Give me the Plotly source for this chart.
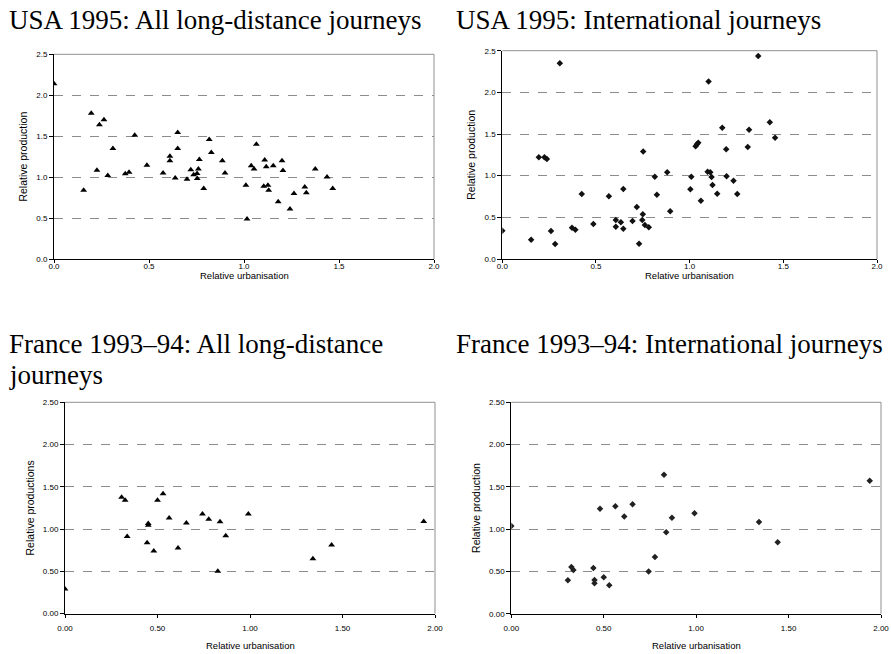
import plotly.graph_objects as go

# USA 1995: all long-distance journeys
usa_all_x = [0.0, 0.156, 0.196, 0.226, 0.239, 0.263, 0.283, 0.31, 0.375, 0.395, 0.425, 0.489,
             0.574, 0.61, 0.61, 0.638, 0.651, 0.651, 0.70, 0.72, 0.735, 0.753, 0.754, 0.76,
             0.765, 0.788, 0.817, 0.828, 0.886, 0.90, 1.01, 1.016, 1.065, 1.038, 1.053, 1.104,
             1.109, 1.117, 1.126, 1.13, 1.154, 1.18, 1.20, 1.205, 1.242, 1.263, 1.32, 1.328,
             1.375, 1.437, 1.467]
usa_all_y = [2.14, 0.84, 1.78, 1.085, 1.64, 1.70, 1.02, 1.35, 1.04, 1.06, 1.51, 1.146,
             1.05, 1.256, 1.20, 0.99, 1.545, 1.35, 0.975, 1.09, 1.03, 1.045, 0.984, 1.10,
             1.215, 0.86, 1.46, 1.30, 1.20, 1.05, 0.90, 0.49, 1.40, 1.14, 1.10, 0.89,
             1.21, 1.126, 0.90, 0.84, 1.14, 0.70, 1.20, 1.08, 0.61, 0.80, 0.88, 0.81,
             1.10, 1.00, 0.86]

# USA 1995: international journeys
usa_int_x = [0.0, 0.154, 0.195, 0.225, 0.238, 0.26, 0.282, 0.307, 0.372, 0.39, 0.424, 0.486,
             0.569, 0.606, 0.606, 0.633, 0.646, 0.646, 0.695, 0.718, 0.73, 0.747, 0.752, 0.75,
             0.761, 0.782, 0.814, 0.825, 0.88, 0.896, 1.004, 1.009, 1.032, 1.039, 1.046, 1.06,
             1.096, 1.101, 1.11, 1.117, 1.122, 1.147, 1.174, 1.195, 1.197, 1.234, 1.254, 1.31,
             1.317, 1.366, 1.428, 1.456]
usa_int_y = [0.34, 0.23, 1.22, 1.22, 1.20, 0.336, 0.18, 2.35, 0.376, 0.352, 0.78, 0.42,
             0.753, 0.468, 0.388, 0.44, 0.84, 0.364, 0.456, 0.624, 0.184, 0.468, 1.29, 0.536,
             0.408, 0.38, 0.988, 0.772, 1.04, 0.573, 0.837, 0.988, 1.353, 1.377, 1.396, 0.70,
             1.048, 2.13, 1.04, 0.984, 0.888, 0.784, 1.576, 1.317, 0.993, 0.94, 0.78, 1.345,
             1.55, 2.437, 1.64, 1.456]

# France 1993-94 (same regions in both panels)
fr_x = [0.0, 0.306, 0.325, 0.336, 0.444, 0.45, 0.45, 0.48, 0.50, 0.53, 0.563, 0.611,
        0.656, 0.743, 0.777, 0.826, 0.838, 0.869, 0.991, 1.34, 1.441, 1.939]
fr_all_y = [0.29, 1.375, 1.34, 0.91, 0.837, 1.046, 1.066, 0.74, 1.34, 1.417, 1.13, 0.774,
            1.07, 1.177, 1.117, 0.50, 1.085, 0.92, 1.177, 0.647, 0.81, 1.09]
fr_int_y = [1.037, 0.395, 0.552, 0.517, 0.54, 0.398, 0.36, 1.24, 0.43, 0.335, 1.27, 1.15,
            1.293, 0.50, 0.67, 1.643, 0.962, 1.135, 1.187, 1.084, 0.844, 1.572]

# panel titles (the third one wraps onto a second line, as in the reference)
title_lines = ["USA 1995: All long-distance journeys",
               "USA 1995: International journeys",
               "France 1993\u201394: All long-distance",
               "journeys",
               "France 1993\u201394: International journeys"]
y_titles = ["Relative production", "Relative production",
            "Relative productions", "Relative production"]
x_title = "Relative urbanisation"
x_ticks = [0, 0.5, 1.0, 1.5, 2.0]
y_ticks = [0, 0.5, 1.0, 1.5, 2.0, 2.5]

W, H = 891, 654
# plot area pixel boxes (left, right, top, bottom)
boxes = [(54, 434, 54.3, 259), (502.3, 877, 50.7, 259),
         (65, 435, 402.3, 613.5), (511.3, 881, 402.3, 613.7)]
xtitle_y = [275, 275, 645, 645]
xlabel_shift = [-4, -4, 4, 4]

fig = go.Figure()
series = [(usa_all_x, usa_all_y, "triangle-up", 6, "#000000"),
          (usa_int_x, usa_int_y, "diamond", 5, "#111111"),
          (fr_x, fr_all_y, "triangle-up", 6, "#000000"),
          (fr_x, fr_int_y, "diamond", 5, "#222222")]

sans = "Liberation Sans, Arial, sans-serif"
serif = "Liberation Serif, Times New Roman, serif"

for i, (xs, ys, sym, sz, col) in enumerate(series):
    n = i + 1
    xa = "x" if n == 1 else f"x{n}"
    ya = "y" if n == 1 else f"y{n}"
    fig.add_trace(go.Scatter(x=xs, y=ys, mode="markers", xaxis=xa, yaxis=ya,
                             marker=dict(symbol=sym, size=sz, color=col, line=dict(width=0)),
                             showlegend=False, hoverinfo="skip"))
    l, r, t, b = boxes[i]
    xdom = [l / W, r / W]
    ydom = [1 - b / H, 1 - t / H]
    fmt = ".1f" if i < 2 else ".2f"
    fig.layout[f"xaxis{'' if n == 1 else n}"] = dict(
        domain=xdom, range=[0, 2], anchor=ya, tickvals=x_ticks, tickformat=fmt,
        automargin=False, ticklabelstandoff=xlabel_shift[i],
        showline=True, linecolor="black", linewidth=1, ticks="outside", ticklen=3,
        tickcolor="black", showgrid=False, zeroline=False,
        tickfont=dict(family=sans, size=8, color="black"))
    fig.layout[f"yaxis{'' if n == 1 else n}"] = dict(
        domain=ydom, range=[0, 2.5], anchor=xa, tickvals=y_ticks, tickformat=fmt,
        automargin=False,
        showline=True, linecolor="black", linewidth=1, ticks="outside", ticklen=4,
        tickcolor="black", showgrid=True, gridcolor="#8c8c8c", griddash="dash",
        gridwidth=1, zeroline=False,
        tickfont=dict(family=sans, size=8, color="black"),
        title=dict(text=y_titles[i], font=dict(family=sans, size=10.5, color="black"), standoff=6))
    # grey frame on top and right
    fig.add_shape(type="line", xref=f"{xa} domain", yref=f"{ya} domain",
                  x0=0, x1=1, y0=1, y1=1, line=dict(color="#909090", width=1))
    fig.add_shape(type="line", xref=f"{xa} domain", yref=f"{ya} domain",
                  x0=1, x1=1, y0=0, y1=1, line=dict(color="#909090", width=1))
    # x-axis title
    fig.add_annotation(text=x_title, xref=f"{xa} domain", yref="paper", x=0.5,
                       y=1 - xtitle_y[i] / H, xanchor="center", yanchor="middle",
                       showarrow=False, font=dict(family=sans, size=9.5, color="black"))

title_pos = [(8, 20), (455, 20), (8, 344), (8, 375), (455, 344)]
for txt, (px, py) in zip(title_lines, title_pos):
    fig.add_annotation(text=txt, xref="paper", yref="paper", x=px / W, y=1 - py / H,
                       xanchor="left", yanchor="middle", align="left", showarrow=False,
                       borderpad=0,
                       font=dict(family=serif, size=27, color="black"))

fig.update_layout(width=W, height=H, margin=dict(l=0, r=0, t=0, b=0, autoexpand=False),
                  paper_bgcolor="white", plot_bgcolor="white")
fig.write_html("out.html")
